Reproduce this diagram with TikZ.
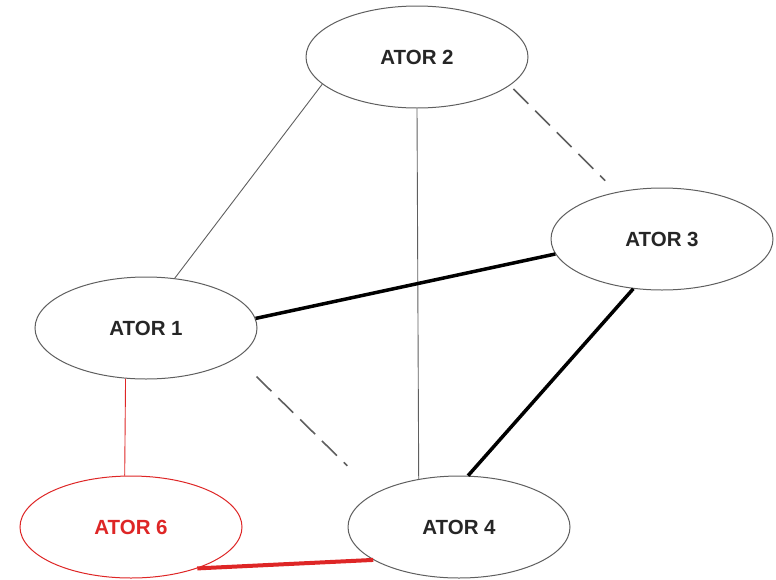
\documentclass[tikz,border=0pt]{standalone}
\usepackage{fontspec}
\setmainfont{Liberation Sans}
\usetikzlibrary{shapes.geometric}
\definecolor{linegray}{RGB}{95,95,95}
\definecolor{actorred}{RGB}{222,38,38}

\begin{document}
\begin{tikzpicture}[x=1pt, y=-1pt, actor/.style={ellipse, draw=linegray, line width=1pt, fill=white, minimum width=222pt, minimum height=102pt, text=black!85, font=\fontsize{20.5}{21}\selectfont\bfseries}, redactor/.style={actor, draw=actorred, text=actorred}, weak/.style={draw=linegray, line width=0.9pt}, strong/.style={draw=black, line width=3.5pt}, gap/.style={draw=linegray, line width=1.6pt, dash pattern=on 21pt off 9.6pt}]
    \useasboundingbox (0,0) rectangle (776,579);
    
    %Nodes
    \node[actor](ator2) at (417,57){ATOR 2};
    \node[actor](ator3) at (662,239){ATOR 3};
    \node[actor](ator1) at (146,328){ATOR 1};
    \node[redactor](ator6) at (131,527){ATOR 6};
    \node[actor](ator4) at (459,527){ATOR 4};
    
    %Lines
    \draw[weak] (ator2.196) -- (ator1.60);
    \draw[weak] (ator2.south) -- (ator4.130);
    \draw[gap, shorten <=5pt, shorten >=16pt] (ator2.-17) -- (ator3.134);
    \draw[strong] (ator1.5) -- (ator3.188);
    \draw[gap, shorten <=27pt, shorten >=39pt] (ator1.-18) -- (ator4.158);
    \draw[strong] (ator3.240) -- (ator4.80);
    \draw[draw=actorred, line width=0.9pt] (ator1.248) -- (ator6.97);
    \draw[draw=actorred, line width=4pt] (ator6.-32) -- (ator4.201);
    
\end{tikzpicture}
\end{document}
